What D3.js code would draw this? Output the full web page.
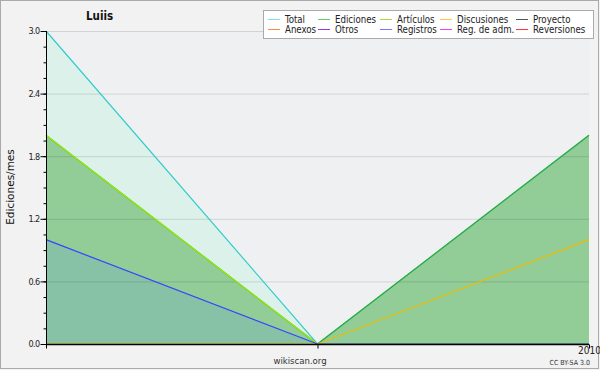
<!DOCTYPE html>
<html><head><meta charset="utf-8">
<script src="https://cdn.jsdelivr.net/npm/d3@7"></script>
<style>
html,body{margin:0;padding:0;background:#f2f2f2;}
svg{display:block;}
text{font-family:"DejaVu Sans Condensed","DejaVu Sans",sans-serif;}
</style></head>
<body>
<script>
// ---- data ----
const title = "Luiis";
const xLabels = ["", "", "2010"];
const total       = [3, 0, 2];
const ediciones   = [2, 0, 2];
const articulos   = [2, 0, 0];
const discusiones = [0, 0, 1];
const registros   = [1, 0, 0];
const yTicks = [0.0, 0.6, 1.2, 1.8, 2.4, 3.0];
const legendRow1 = ["Total", "Ediciones", "Artículos", "Discusiones", "Proyecto"];
const legendRow2 = ["Anexos", "Otros", "Registros", "Reg. de adm.", "Reversiones"];
const legendColors1 = ["#88dddd", "#66cc66", "#aadd33", "#ffcc33", "#555555"];
const legendColors2 = ["#ff8844", "#9933ee", "#7777ff", "#ee44ee", "#ff3333"];

const W = 600, H = 370;
const svg = d3.select("body").append("svg").attr("width", W).attr("height", H);
svg.append("rect").attr("x",0.5).attr("y",0.5).attr("width",598).attr("height",368)
  .attr("fill","#f2f2f2").attr("stroke","#aaaaaa");

const x = d3.scaleLinear().domain([0, xLabels.length - 1]).range([46, 589]);
const y = d3.scaleLinear().domain([0, 3]).range([344, 31]);

svg.append("rect").attr("x",46).attr("y",31).attr("width",543).attr("height",313).attr("fill","#eff0f2");

const idx = d3.range(xLabels.length);
const area = vals => d3.area().x(i => x(i)).y0(y(0)).y1(i => y(vals[i]))(idx);
const line = vals => d3.line().x(i => x(i)).y(i => y(vals[i]))(idx);

// fills
svg.append("path").attr("d", area(total)).attr("fill", "#dcf1ea");
svg.append("path").attr("d", area(ediciones)).attr("fill", "#92cc97");
svg.append("path").attr("d", area(registros)).attr("fill", "#87c2a7");

// grid
svg.append("g").selectAll("line").data(yTicks.filter(d => d > 0)).join("line")
  .attr("x1", 46).attr("x2", 589).attr("y1", d => y(d) + 0.5).attr("y2", d => y(d) + 0.5)
  .attr("stroke", "rgba(0,0,0,0.12)");

// lines
const lineStyles = [[total, "#33cccc"], [ediciones, "#33aa33"], [articulos, "#99ee00"],
                    [discusiones, "#eebb00"], [registros, "#3344ff"]];
lineStyles.forEach(([v, c]) => {
  svg.append("path").attr("d", line(v)).attr("fill", "none").attr("stroke", c).attr("stroke-width", 1.2);
});

// y axis
const yMinor = d3.range(0, 3.0001, 0.15);
const ya = svg.append("g").attr("transform", "translate(46.5,0)");
ya.call(d3.axisLeft(y).tickValues(yMinor).tickSize(3).tickFormat(""));
ya.call(g => g.selectAll(".tick line").attr("stroke","#000"));
const ym = svg.append("g").attr("transform", "translate(46.5,0)");
ym.call(d3.axisLeft(y).tickValues(yTicks).tickSize(6).tickPadding(1).tickFormat(d3.format(".1f")));
ym.selectAll("text").attr("font-size", 9).attr("letter-spacing", "-0.6px").attr("fill", "#222")
  .attr("font-family", '"DejaVu Sans Condensed","DejaVu Sans",sans-serif');
ym.select(".domain").attr("stroke", "#000").attr("d", "M0,31V348");
ya.select(".domain").remove();

// x axis
const xa = svg.append("g").attr("transform", "translate(0,344.5)");
xa.call(d3.axisBottom(x).tickValues(idx).tickSize(4).tickPadding(0).tickFormat(i => xLabels[i]));
xa.select(".domain").attr("stroke", "#000").attr("stroke-width", 1.5).attr("d", "M46,0H589");
xa.selectAll("text").attr("font-size", 10).attr("fill", "#222").attr("dy", "0.55em")
  .attr("font-family", '"DejaVu Sans Condensed","DejaVu Sans",sans-serif');

// y label
svg.append("text").attr("transform", "translate(14,187) rotate(-90)").attr("text-anchor", "middle")
  .attr("font-size", 10.5).attr("fill", "#111").style("font-family", '"DejaVu Sans",sans-serif')
  .text("Ediciones/mes");

// title
svg.append("text").attr("x", 86).attr("y", 20).attr("font-size", 11.5).attr("font-weight", "bold")
  .attr("fill", "#111").text(title);

// footer
svg.append("text").attr("x", 300).attr("y", 364).attr("text-anchor", "middle").attr("font-size", 9.5)
  .attr("fill", "#333").text("wikiscan.org");
svg.append("text").attr("x", 590).attr("y", 365).attr("text-anchor", "end").attr("font-size", 7)
  .attr("fill", "#333").text("CC BY-SA 3.0");

// legend
const lg = svg.append("g");
lg.append("rect").attr("x", 263.5).attr("y", 10.5).attr("width", 330).attr("height", 28)
  .attr("fill", "#ffffff").attr("stroke", "#aaaaaa");
const textX = [285, 335, 397, 457, 533];
[[legendRow1, legendColors1, 19, 23], [legendRow2, legendColors2, 29, 33]].forEach(([labels, cols, ly, ty]) => {
  labels.forEach((t, i) => {
    lg.append("line").attr("x1", textX[i] - 17).attr("x2", textX[i] - 5)
      .attr("y1", ly + 0.5).attr("y2", ly + 0.5).attr("stroke", cols[i]).attr("stroke-width", 1);
    lg.append("text").attr("x", textX[i]).attr("y", ty).attr("font-size", 9.6).attr("fill", "#222").text(t);
  });
});
</script>
</body></html>
